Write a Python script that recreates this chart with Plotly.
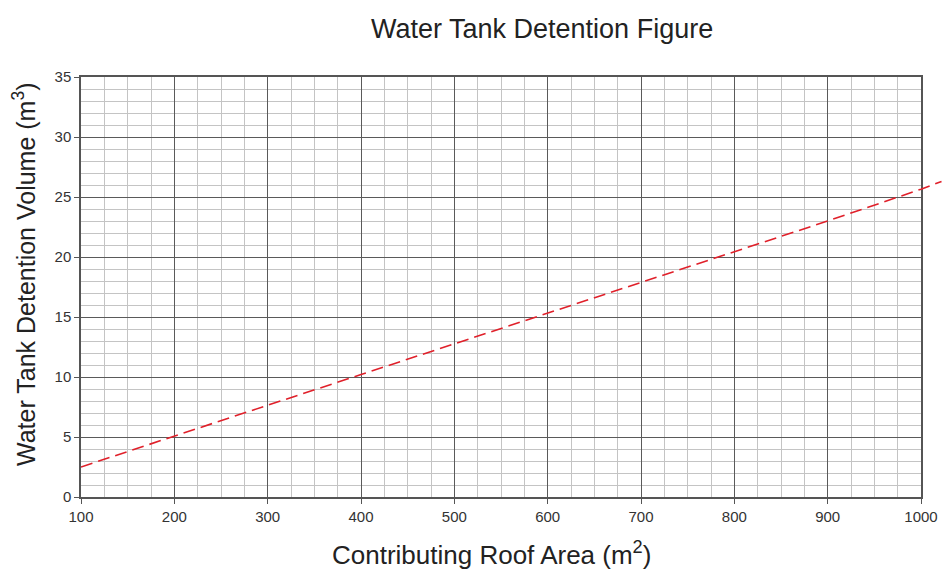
import plotly.graph_objects as go

# Data
roof_area = [100, 200, 300, 400, 500, 600, 700, 800, 900, 1000, 1022]
detention_volume = [2.5, 5.1, 7.65, 10.2, 12.75, 15.3, 17.9, 20.45, 23.0, 25.65, 26.3]
x_ticks = [100, 200, 300, 400, 500, 600, 700, 800, 900, 1000]
y_ticks = [0, 5, 10, 15, 20, 25, 30, 35]

W, H = 942, 569
ml, mt, mb = 81, 77, 72
plot_w = 840  # px width of main plot area
paper_w = W - ml
plot_h = H - mt - mb
main_frac = plot_w / paper_w
x2_max = 100 + paper_w * 900 / plot_w

font = "Liberation Sans, Arial, sans-serif"

def px_x(p):
    return (p - ml) / paper_w

def px_y(p):
    return (H - mb - p) / plot_h

fig = go.Figure()
fig.add_trace(go.Scatter(x=[100, 1000], y=[0, 35], mode="markers",
                         marker=dict(opacity=0), showlegend=False, hoverinfo="skip"))
fig.add_trace(go.Scatter(
    x=roof_area, y=detention_volume, mode="lines",
    line=dict(color="#e0202a", width=1.6, dash="12px,6px"),
    xaxis="x2", yaxis="y2", showlegend=False, hoverinfo="skip"))

fig.update_layout(
    width=W, height=H,
    margin=dict(l=ml, r=0, t=mt, b=mb),
    paper_bgcolor="white", plot_bgcolor="rgba(0,0,0,0)",
    font=dict(family=font, color="#222"),
    xaxis=dict(domain=[0, main_frac], range=[100, 1000], tickvals=x_ticks,
               showgrid=True, gridcolor="#5a5a5a", gridwidth=1.2,
               minor=dict(dtick=25, showgrid=True, gridcolor="#c4c4c4", gridwidth=1),
               showline=True, linecolor="#555", linewidth=1.5, mirror=True,
               ticks="outside", ticklen=5, tickcolor="#555",
               tickfont=dict(size=15, color="#333"), zeroline=False,
               automargin=False),
    yaxis=dict(range=[0, 35], tickvals=y_ticks,
               showgrid=True, gridcolor="#5a5a5a", gridwidth=1.2,
               minor=dict(dtick=1, showgrid=True, gridcolor="#c4c4c4", gridwidth=1),
               showline=True, linecolor="#555", linewidth=1.5, mirror=True,
               ticks="outside", ticklen=5, tickcolor="#555",
               tickfont=dict(size=15, color="#333"), zeroline=False,
               automargin=False),
    xaxis2=dict(domain=[0, 1], range=[100, x2_max], visible=False, anchor="y2"),
    yaxis2=dict(domain=[0, 1], range=[0, 35], visible=False, anchor="x2"),
    annotations=[
        dict(text="Water Tank Detention Figure", xref="paper", yref="paper",
             x=px_x(542), y=px_y(29), xanchor="center", yanchor="middle",
             showarrow=False, font=dict(size=27, color="#222")),
        dict(text="Contributing Roof Area (m<sup>2</sup>)", xref="paper", yref="paper",
             x=px_x(491), y=px_y(553), xanchor="center", yanchor="middle",
             showarrow=False, font=dict(size=26, color="#222")),
        dict(text="Water Tank Detention Volume (m<sup>3</sup>)", xref="paper", yref="paper",
             x=px_x(24), y=px_y(274), xanchor="center", yanchor="middle",
             textangle=-90, showarrow=False, font=dict(size=25, color="#222")),
    ],
)

fig.write_html("out.html", config={"displayModeBar": False},
               post_script="document.body.style.margin='0';document.body.style.overflow='hidden';")
